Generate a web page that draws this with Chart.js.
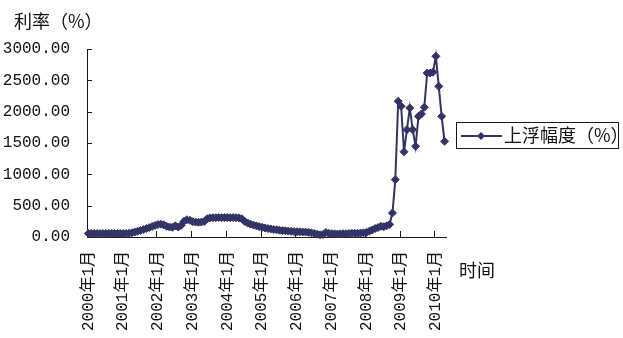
<!DOCTYPE html>
<html>
<head>
<meta charset="utf-8">
<script src="https://cdn.jsdelivr.net/npm/chart.js@4/dist/chart.umd.min.js"></script>
<style>
  html, body { margin: 0; padding: 0; background: #fff; }
  #wrap { width: 623px; height: 338px; overflow: hidden; }
</style>
</head>
<body>
<div id="wrap"><canvas id="c" width="623" height="338"></canvas></div>
<script>
// Monthly categories, 2000年1月 through 2010年4月
const startYear = 2000;
const monthCount = 124;
const months = [];
for (let i = 0; i < monthCount; i++) {
  months.push((startYear + Math.floor(i / 12)) + '年' + (i % 12 + 1) + '月');
}

// 上浮幅度（%） per month
const floatRange = [
  55, 55, 55, 56, 55, 54, 55, 56, 55, 55, 56, 55,          // 2000
  55, 56, 60, 66, 78, 92, 105, 118, 135, 150, 168, 185,     // 2001
  200, 205, 195, 170, 160, 155, 178, 160, 185, 250, 275, 268, // 2002
  245, 238, 235, 238, 248, 292, 305, 308, 308, 310, 308, 310, // 2003
  310, 308, 310, 308, 305, 290, 248, 222, 205, 190, 178, 165, // 2004
  155, 145, 135, 128, 120, 115, 108, 102, 98, 94, 90, 86,   // 2005
  84, 82, 80, 78, 74, 66, 55, 45, 36, 40, 72, 58,           // 2006
  52, 50, 48, 50, 52, 52, 55, 58, 60, 60, 62, 66,           // 2007
  72, 92, 112, 135, 150, 172, 165, 178, 200, 383, 915, 2166, // 2008
  2086, 1360, 1713, 2059, 1713, 1447, 1926, 1963, 2070, 2617, 2617, 2630, // 2009
  2884, 2405, 1926, 1527                                    // 2010
];

const yTicks = [0, 500, 1000, 1500, 2000, 2500, 3000];
const yTitle = '利率（%）';
const xTitle = '时间';
const seriesName = '上浮幅度（%）';

const navy = '#333366';
const axisColor = '#1a1a1a';
const textColor = '#111';
const tickFont = { family: "'Liberation Mono', 'Noto Sans CJK SC', monospace", size: 16 };
const cjkFont = "18px 'Noto Sans CJK SC', sans-serif";

// Inward tick marks on both axes, titles and the boxed legend
const decorations = {
  id: 'decorations',
  beforeDatasetsDraw(chart) {
    const { ctx, scales: { x, y }, chartArea } = chart;
    ctx.save();
    ctx.strokeStyle = axisColor;
    ctx.lineWidth = 1;
    ctx.beginPath();
    yTicks.forEach(v => {
      const py = Math.round(y.getPixelForValue(v)) + 0.5;
      ctx.moveTo(chartArea.left, py);
      ctx.lineTo(chartArea.left + 5, py);
    });
    const slot = x.getPixelForValue(1) - x.getPixelForValue(0);
    for (let i = 12; i < months.length; i += 12) {
      const px = Math.round(x.getPixelForValue(i) - slot / 2) + 0.5;
      ctx.moveTo(px, chartArea.bottom);
      ctx.lineTo(px, chartArea.bottom - 6);
    }
    ctx.stroke();
    ctx.restore();
  },
  afterDraw(chart) {
    const { ctx } = chart;
    ctx.save();
    ctx.fillStyle = textColor;
    ctx.font = cjkFont;
    ctx.textBaseline = 'middle';
    ctx.textAlign = 'left';
    ctx.fillText(yTitle, 14, 21);
    ctx.fillText(xTitle, 459, 270);

    // legend
    ctx.strokeStyle = axisColor;
    ctx.lineWidth = 1;
    ctx.strokeRect(456.5, 122.5, 162, 26);
    ctx.strokeStyle = navy;
    ctx.lineWidth = 2;
    ctx.beginPath();
    ctx.moveTo(461, 136);
    ctx.lineTo(502, 136);
    ctx.stroke();
    ctx.fillStyle = navy;
    ctx.beginPath();
    ctx.moveTo(481, 132);
    ctx.lineTo(485, 136);
    ctx.lineTo(481, 140);
    ctx.lineTo(477, 136);
    ctx.closePath();
    ctx.fill();
    ctx.fillStyle = textColor;
    ctx.fillText(chart.data.datasets[0].label, 504, 135);
    ctx.restore();
  }
};

new Chart(document.getElementById('c'), {
  type: 'line',
  data: {
    labels: months,
    datasets: [{
      label: seriesName,
      data: floatRange,
      borderColor: navy,
      backgroundColor: navy,
      borderWidth: 2,
      pointStyle: 'rectRot',
      pointRadius: 4,
      pointBorderWidth: 1,
      pointBorderColor: navy,
      pointBackgroundColor: navy,
      tension: 0,
      clip: false
    }]
  },
  options: {
    responsive: false,
    animation: false,
    events: [],
    layout: { padding: { left: 0, top: 49, right: 177, bottom: 0 } },
    plugins: { legend: { display: false }, tooltip: { enabled: false } },
    scales: {
      x: {
        type: 'category',
        offset: true,
        grid: { display: false, offset: true },
        border: { display: true, color: axisColor, width: 1 },
        ticks: {
          autoSkip: false,
          minRotation: 90,
          maxRotation: 90,
          padding: 6,
          color: textColor,
          font: tickFont,
          callback(value, index) {
            return index % 12 === 0 ? this.getLabelForValue(value) : null;
          }
        },
        afterFit(scale) { scale.height = 101; }
      },
      y: {
        min: 0,
        max: 3000,
        grid: { display: false },
        border: { display: true, color: axisColor, width: 1 },
        ticks: {
          stepSize: 500,
          padding: 9,
          color: textColor,
          font: tickFont,
          callback: v => Number(v).toFixed(2)
        },
        afterFit(scale) { scale.width = 87; }
      }
    }
  },
  plugins: [decorations]
});
</script>
</body>
</html>
